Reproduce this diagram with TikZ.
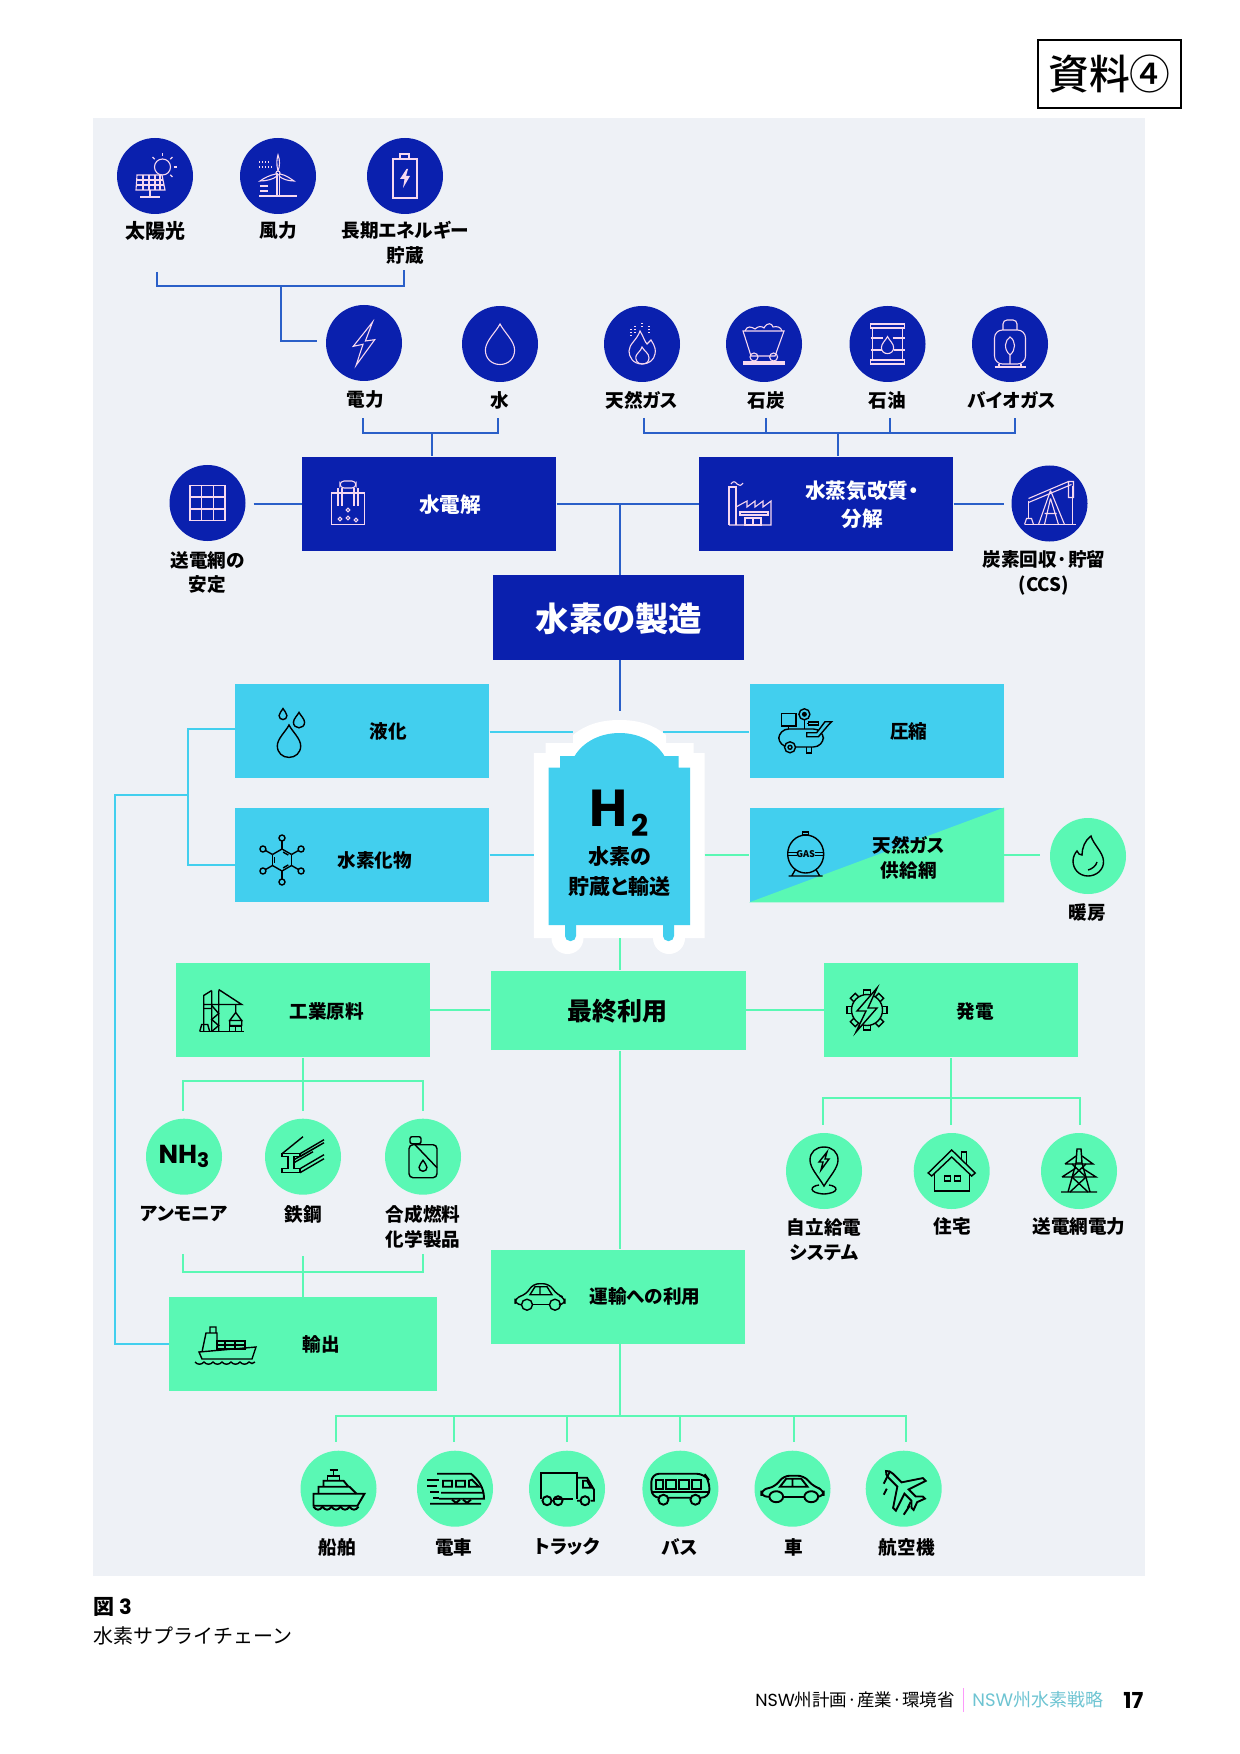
\documentclass[tikz,border=0pt]{standalone}
\usepackage{fontspec}
\setmainfont[RawFeature=+palt]{Noto Sans CJK JP}
\newfontfamily\fullfont{Noto Sans CJK JP}
\newfontfamily\medfont[UprightFont=* Medium]{Noto Sans CJK JP}
\newfontfamily\popfont{Poppins}
\usetikzlibrary{arrows.meta, positioning, shapes.geometric, fit, backgrounds}
\definecolor{hblue}{HTML}{0A20AE}
\definecolor{hcyan}{HTML}{42CFEE}
\definecolor{hgreen}{HTML}{5AF8B4}
\definecolor{hpanel}{HTML}{EEF1F6}
\definecolor{hlinb}{HTML}{2A5FC8}
\definecolor{hicow}{HTML}{F7D8F0}
\definecolor{hteal}{HTML}{6EC4D2}

% Icons, drawn in page pixels round their own centre
\tikzset{
    idrop/.pic={\draw (0,-20) .. controls (-4,-12) and (-14.6,-3) .. (-14.6,6) .. controls (-14.6,15) and (-8,20.5) .. (0,20.5) .. controls (8,20.5) and (14.6,15) .. (14.6,6) .. controls (14.6,-3) and (4,-12) .. (0,-20) -- cycle;},
    isolar/.pic={
        \draw (7.5,-9) circle (8);
        \foreach \a in {-135,-90,-45,0,45}
            \draw ([shift={(7.5,-9)}]\a:11) -- ([shift={(7.5,-9)}]\a:14);
        \filldraw[fill=hblue] (-18,-1) -- (7,-1) -- (10,14) -- (-19,14) -- cycle;
        \foreach \u in {-12,-6,0,5} \draw (\u,-1) -- (\u,14);
        \draw (-18.5,4) -- (8,4) (-19,9) -- (9,9);
        \draw (-5,14) -- (-5,21) (-15,21) -- (5,21);
    },
    iwind/.pic={
        \draw (-1,-3) -- (-1,20) (1.5,-3) -- (1.5,20) (-19,20) -- (19,20);
        \draw (0,-3) circle (2);
        \draw (0,-5) .. controls (-2,-12) and (-1,-18) .. (0,-21) .. controls (2,-16) and (2,-10) .. (0,-5);
        \draw (-2,-2) .. controls (-8,-1) and (-14,2) .. (-18,5) .. controls (-11,5) and (-4,3) .. (-1,0);
        \draw (2,-2) .. controls (8,-1) and (13,3) .. (16,5) .. controls (10,5) and (4,3) .. (1,0);
        \draw[densely dotted] (-19,-14) -- (-9,-14) (-19,-9) -- (-6,-9);
        \draw (-18,10) -- (-10,10) (-18,15) -- (-10,15);
    },
    ibatt/.pic={
        \draw (-12,-17) rectangle (12,22) (-5,-17) -- (-5,-22) -- (4,-22) -- (4,-17);
        \fill[hicow] (1.5,-7) -- (-5,3) -- (-0.5,3) -- (-2,12) -- (5,0) -- (1,0) -- (3,-7) -- cycle;
    },
    ibolt/.pic={\draw (8.6,-21) -- (-10.7,3.3) -- (-1,1.3) -- (-7.9,22.3) -- (10.7,-3.3) -- (1.4,-2) -- cycle;},
    iflame/.pic={
        \draw (0,20) .. controls (-9,20) and (-13,13) .. (-13,7) .. controls (-13,0) and (-5,-4) .. (-2,-13) .. controls (2,-6) and (3,-2) .. (5,0) .. controls (7,-2) and (8,-3) .. (9,-4) .. controls (13,2) and (14,6) .. (13,10) .. controls (12,16) and (7,20) .. (0,20) -- cycle;
        \draw (0,20) .. controls (-5,20) and (-7,15) .. (-6,12) .. controls (-5,9) and (-1,7) .. (0,3) .. controls (2,7) and (7,9) .. (7,14) .. controls (7,18) and (4,20) .. (0,20);
        \draw[densely dotted] (-11,-15) -- (-11,-6) (-7,-18) -- (-7,-9) (0,-21) -- (0,-16) (7,-18) -- (7,-9);
    },
    iheat/.pic={
        \draw (3,-20) .. controls (5,-12) and (15,-4) .. (15.5,5) .. controls (16,14) and (8,20) .. (0,20) .. controls (-9,20) and (-15,13) .. (-15,5) .. controls (-15,1) and (-13,-3) .. (-11,-5) .. controls (-10,-2) and (-8,-1) .. (-6,-1) .. controls (-6,-8) and (-3,-16) .. (3,-20) -- cycle;
        \draw (9,6) .. controls (8,10) and (4,13) .. (0,14);
    },
    icoal/.pic={
        \draw (-21,-13) -- (20,-13) -- (11,12) -- (-13,12) -- cycle;
        \draw (-19,-13) .. controls (-17,-19) and (-12,-17) .. (-9,-15) .. controls (-6,-18) and (-2,-18) .. (0,-16) .. controls (3,-22) and (8,-21) .. (9,-17) .. controls (13,-18) and (17,-17) .. (18,-13);
        \draw (-10,13) circle (4) (9.6,13) circle (4);
        \draw (-21,18) -- (21,18) (-21,20) -- (21,20);
    },
    ibarrel/.pic={
        \draw (-17,-20) rectangle (17,-16) (-17,16) rectangle (17,20);
        \draw (-15,-16) -- (-15,16) (15,-16) -- (15,16);
        \draw (-17,-6) -- (-5,-6) (5,-6) -- (17,-6) (-17,6) -- (-6,6) (6,6) -- (17,6);
        \pic[scale=.42] at (0,1) {idrop};
    },
    ibio/.pic={
        \draw[rounded corners=2pt] (-7,-14) -- (-7,-24) -- (7,-24) -- (7,-14);
        \draw[rounded corners=4pt] (-15.5,-14) rectangle (15.5,20);
        \draw (-15.5,23) -- (15.5,23) (-11,20) -- (-11,23) (11,20) -- (11,23);
        \draw (0,20) -- (0,11) (0,11) .. controls (-7,5) and (-5,-4) .. (0,-7) .. controls (6,-3) and (6,6) .. (0,11);
    },
    igrid/.pic={
        \draw (-17.5,-17.3) rectangle (17.5,17.3);
        \draw (-6,-17.3) -- (-6,17.3) (6,-17.3) -- (6,17.3) (-17.5,-6) -- (17.5,-6) (-17.5,6) -- (17.5,6);
    },
    ipump/.pic={
        \draw (-25,21) -- (26,21) (-21,15) -- (-21,-3) (23,-18) -- (23,20);
        \draw (-21,-1) -- (22,-19) (-21,-5) -- (19,-22) (19,-22) -- (24,-22) -- (24,-6) -- (19,-6) -- cycle;
        \draw (1,-13) -- (-11,21) (1,-13) -- (15,21) (1,-5) -- (-5,21) (1,-5) -- (9,21) (-5,10) -- (7,10);
        \draw (-25,21) -- (-23,15) -- (-18,15) -- (-16,21);
    },
    ielec/.pic={
        \draw (-16.4,-10) rectangle (16.4,21.7);
        \draw[rounded corners=2pt] (-8,-15) rectangle (8,-22);
        \draw (-10,-15) -- (-10,3) (-6,-15) -- (-6,3) (6,-15) -- (6,3) (10,-15) -- (10,3);
        \draw (-8,16) circle (1.8) (0,7) circle (1.8) (0,15) circle (1.8) (8,17) circle (1.8);
    },
    ifactory/.pic={
        \draw (-21,21) -- (-21,-17) -- (-14,-17) -- (-14,21);
        \draw (-21,21) -- (21,21) -- (21,-3) -- (13,3) -- (13,-3) -- (5,3) -- (5,-3) -- (-3,3) -- (-3,-3) -- (-14,3);
        \draw (-10,8) rectangle (18,11) (-5,14) rectangle (11,21) (3,14) -- (3,21);
        \draw (-19,-20) .. controls (-17,-23) and (-15,-23) .. (-13,-20) .. controls (-11,-18) and (-9,-18) .. (-7,-21);
    },
    idrops/.pic={
        \pic[scale=.8] at (0,10) {idrop};
        \pic[scale=.27] at (-6,-17) {idrop};
        \pic[scale=.38] at (10,-11) {idrop};
    },
    imol/.pic={
        \foreach \a in {30,90,...,330}{
            \draw (\a:11) -- (\a+60:11);
            \draw (\a:11) -- (\a:19);
            \draw (\a:22) circle (3);
        }
        \foreach \a in {30,150,270} \draw (\a+8:8) -- (\a+52:8);
    },
    icomp/.pic={
        \draw[rounded corners=5pt] (-27,-2) rectangle (17.7,16);
        \filldraw[fill=hcyan] (-15.7,16.3) circle (5.5);
        \draw (-15.7,16.3) circle (2);
        \draw (1,16) -- (1,22) -- (6,22) -- (6,16);
        \draw (-24,-17.7) rectangle (-9.7,-5);
        \draw (-17,-5) -- (-17,-2);
        \draw (-1.3,-16.7) circle (5.5);
        \fill[black] (-1.3,-16.7) circle (2.5);
        \draw (-1.3,-11) -- (-1.3,-2);
        \draw (3,-9) rectangle (13,-6) (1,-7.5) -- (3,-7.5);
        \filldraw[fill=hcyan] (1,1.7) -- (11,1.7) -- (19.3,-9.3) -- (26,-9.3) -- (22.7,-6) -- (12.7,5.7) -- (1,5.7) -- cycle;
    },
    igas/.pic={
        \draw (0,0) ellipse (18 and 19);
        \draw (-18,-1.5) -- (-9,-1.5) (9,-1.5) -- (18,-1.5) (-18,1.5) -- (-9,1.5) (9,1.5) -- (18,1.5);
        \draw (-3,-19) rectangle (3,-22);
        \draw (-10,15) -- (-14,22) (10,15) -- (14,22) (-17,22) -- (17,22);
        \node[font=\fontsize{4.6}{5}\selectfont\bfseries, inner sep=0pt] (tGas) at (0,0) {GAS};
    },
    icrane/.pic={
        \draw (-22,20) -- (22,20);
        \draw (-10,-21) -- (-18,-16) -- (-18,20) (-3,-21) -- (-3,20) (-10,-21) -- (-10,20) (-3,-22) -- (20,-7) -- (-18,-7);
        \draw (-10,-6) -- (-3,2) -- (-10,8) -- (-3,14) -- (-10,20);
        \draw (-18,-3) -- (-10,-3) (-22,20) -- (-20,13) -- (-14,13) -- (-12,20);
        \draw (14,-7) -- (14,1) (14,1) -- (8,9) -- (20,9) -- cycle (8,9) rectangle (20,14);
        \draw (8,15) rectangle (14,20) (14,15) rectangle (20,20);
    },
    igear/.pic={
        \draw (0,0) circle (15.5);
        \foreach \a in {0,45,...,315}
            \draw[rotate=\a] (-3.5,-15) -- (-3.5,-20) -- (3.5,-20) -- (3.5,-15);
        \filldraw[fill=hgreen] (10,-22) -- (-10,1) -- (-1,1) -- (-11,22) -- (10,-2) -- (1,-2) -- cycle;
    },
    isteel/.pic={
        \draw (-21,-3) -- (-3,-3) -- (-3,0) -- (-9,0) -- (-9,12) -- (-3,12) -- (-3,16) -- (-21,16) -- (-21,12) -- (-15,12) -- (-15,0) -- (-21,0) -- cycle;
        \draw (-21,-3) -- (0,-20) (-3,-3) -- (21,-17) (-3,0) -- (21,-14) (-9,3) -- (21,-14);
        \draw (-3,12) -- (21,-2) (-3,16) -- (21,2) (-9,6) -- (10,-5);
    },
    ican/.pic={
        \draw[rounded corners=2pt] (-14,-12) rectangle (14,21);
        \draw[rounded corners=1pt] (-13,-20) rectangle (-2,-13);
        \draw (-8,-12) -- (14,11);
        \pic[scale=.27] at (0,9) {idrop};
    },
    icargo/.pic={
        \draw (-26,7) -- (31,2) -- (27,14) -- (-23,14) -- cycle;
        \draw (-23,7) -- (-19,-12) -- (-8,-12) -- (-8,5) (-15,-12) -- (-15,-18) -- (-9,-18) -- (-9,-12);
        \draw (-8,-4) rectangle (20,4) (0,-4) -- (0,4) (10,-4) -- (10,4) (-8,0) -- (20,0);
        \draw (-30,17) .. controls (-27,20) and (-24,20) .. (-21,17) .. controls (-18,20) and (-15,20) .. (-12,17) .. controls (-9,20) and (-6,20) .. (-3,17) .. controls (0,20) and (3,20) .. (6,17) .. controls (9,20) and (12,20) .. (15,17) .. controls (18,20) and (21,20) .. (24,17) .. controls (26,19) and (28,19) .. (30,17);
    },
    icar/.pic={
        \draw[rounded corners=3pt] (-19,8) -- (-25,8) -- (-25,1) -- (-14,-2) -- (-7,-13) -- (9,-13) -- (17,-2) -- (25,1) -- (25,8) -- (20,8);
        \draw (-7,8) -- (9,8);
        \draw (-13,8) circle (5.5) (15,8) circle (5.5);
        \draw (-10,-2) -- (-5,-10) -- (0,-10) -- (0,-2) -- cycle (0,-10) -- (7,-10) -- (12,-2) -- (0,-2);
    },
    ipin/.pic={
        \draw (0,15) .. controls (-6,5) and (-14,-3) .. (-14,-11) .. controls (-14,-19) and (-8,-24) .. (0,-24) .. controls (8,-24) and (14,-19) .. (14,-11) .. controls (14,-3) and (6,5) .. (0,15) -- cycle;
        \draw (-5,14) .. controls (-14,15) and (-16,22) .. (0,23) .. controls (16,22) and (14,15) .. (5,14);
        \draw (3,-19) -- (-5,-9) -- (-1,-9) -- (-3,-1) -- (5,-12) -- (1,-12) -- cycle;
    },
    ihouse/.pic={
        \draw (-23.5,2) -- (0,-21) -- (23.5,2) -- (20,5) -- (0,-14) -- (-20,5) -- cycle;
        \draw (-17,3) -- (-17,20) -- (18,20) -- (18,3);
        \draw (10,-12) -- (10,-19) -- (15,-19) -- (15,-7);
        \draw (-7,5) rectangle (-1,10) (3,5) rectangle (9,10);
    },
    ipylon/.pic={
        \draw (-2,-22) -- (2,-22) -- (3,-8) -- (-3,-8) -- cycle;
        \draw (-3,-8) -- (-11,21) (3,-8) -- (11,21) (-18,21) -- (18,21);
        \draw (-14,-7) -- (14,-7) -- (3,-15) (-14,-7) -- (-3,-15);
        \draw (-17,6) -- (17,6) -- (3,-3) (-17,6) -- (-3,-3);
        \draw (-7,6) -- (9,21) (7,6) -- (-9,21) (-7,6) -- (7,-7) (7,6) -- (-7,-7);
    },
    icruise/.pic={
        \draw (-25,5) -- (26,5) -- (19,17) -- (-25,17) -- cycle;
        \draw (-20,5) -- (-20,-2) -- (11,-2) -- (18,5) (-15,-2) -- (-15,-8) -- (5,-8) -- (10,-2);
        \draw (-11,-8) -- (-11,-13) -- (1,-13) -- (1,-8) (-5,-13) -- (-5,-19) (-9,-19) -- (-1,-19);
        \draw (-25,18) .. controls (-22,22) and (-19,22) .. (-16,18) .. controls (-13,22) and (-10,22) .. (-7,18) .. controls (-4,22) and (-1,22) .. (2,18) .. controls (5,22) and (8,22) .. (11,18) .. controls (14,22) and (17,22) .. (20,18);
    },
    itrain/.pic={
        \draw (-18,-15) -- (16,-15) .. controls (23,-9) and (29,-2) .. (29,10) -- (-16,10) (-14,4) -- (29,4);
        \draw (-12,-8) rectangle (-3,-2) (1,-8) rectangle (10,-2) (14,-8) -- (14,-2) -- (24,-2) -- (17,-9) -- cycle;
        \draw (-28,-9) -- (-16,-9) (-28,-3) -- (-18,-3) (-25,3) -- (-16,3) (-22,9) -- (-16,9);
        \draw (-25,15) -- (26,15) (-3,11) -- (1,14) -- (5,11) (8,11) -- (12,14) -- (16,11);
    },
    itruck/.pic={
        \draw (-14,10) -- (6,10) (-26,10) -- (-26,-16) -- (10,-16) -- (10,10);
        \draw (10,-11) -- (20,-11) -- (27,1) -- (27,12) -- (24,12) (10,12) -- (13,12);
        \draw (16,-8) -- (20,-8) -- (24,-1) -- (16,-1) -- cycle;
        \draw (-20,12) circle (4.5) (-9,12) circle (4.5) (18,12) circle (4.5);
    },
    ibus/.pic={
        \draw[rounded corners=4pt] (-29,9) -- (-29,-15) -- (24,-15) -- (29,-8) -- (29,9) -- cycle;
        \draw (-24,-9) rectangle (-17,0) (-14,-9) rectangle (-4,0) (-1,-9) rectangle (9,0) (12,-9) rectangle (21,0);
        \draw (-29,3) -- (29,3);
        \filldraw[fill=hgreen] (-17,11) circle (5) (15,11) circle (5);
    },
    iplane/.pic={
        \begin{scope}[rotate=45]
        \draw (0,-25) .. controls (2,-24) and (3,-21) .. (3,-18) -- (3,-6) -- (21,6) -- (21,10) -- (3,4) -- (3,14) -- (8,19) -- (8,22) -- (0,19) -- (-8,22) -- (-8,19) -- (-3,14) -- (-3,4) -- (-21,10) -- (-21,6) -- (-3,-6) -- (-3,-18) .. controls (-3,-21) and (-2,-24) .. (0,-25) -- cycle;
        \end{scope}
        \draw (-20,-5) -- (-14,-17) (-20,6) -- (-17,0) (0,26) -- (6,17) (7,13) -- (4,19);
    }
}

\begin{document}
\begin{tikzpicture}[
    x=0.5pt, y=-0.5pt,
    panel/.style={fill=hpanel},
    dotblue/.style={circle, fill=hblue, minimum size=38pt, inner sep=0pt},
    dotcyan/.style={circle, fill=hcyan, minimum size=38pt, inner sep=0pt},
    dotgreen/.style={circle, fill=hgreen, minimum size=38pt, inner sep=0pt},
    lbl/.style={font=\fontsize{9.3}{12.4}\selectfont\bfseries, align=center, inner sep=0pt},
    boxblue/.style={fill=hblue, minimum width=127pt, minimum height=47pt, inner sep=0pt},
    boxcyan/.style={fill=hcyan, minimum width=127pt, minimum height=47pt, inner sep=0pt},
    boxgreen/.style={fill=hgreen, minimum width=127pt, minimum height=47pt, inner sep=0pt},
    wtxt/.style={lbl, text=white, font=\fontsize{10.3}{14}\selectfont\bfseries},
    wico/.style={draw=hicow, line width=0.55pt},
    kico/.style={draw=black, line width=0.7pt},
    kicob/.style={draw=black, line width=0.95pt},
    linb/.style={draw=hlinb, line width=1pt},
    linc/.style={draw=hcyan, line width=1pt},
    ling/.style={draw=hgreen, line width=1pt}
]
\useasboundingbox (0,0) rectangle (1240,1754);
\fill[panel] (93,118.5) rectangle (1145,1575.5);

% Sheet label, caption and footer
\node[draw=black, line width=0.8pt, minimum width=71.5pt, minimum height=34pt, inner sep=0pt] (sheet) at (1109.5,74) {\medfont\fontsize{20.4}{20}\selectfont 資料④};
\node[lbl, anchor=west, font=\fontsize{10.5}{12}\selectfont\bfseries] (figno) at (93,1607) {図 {\popfont 3}};
\node[lbl, anchor=west, font=\fullfont\fontsize{10}{12}\selectfont] (figcap) at (93,1636) {水素サプライチェーン};
\node[anchor=east, inner sep=0pt, font=\fontsize{8.75}{12}\selectfont] (footA) at (955,1700) {{\popfont NSW}州計画·産業·環境省};
\node[anchor=west, inner sep=0pt, text=hteal, font=\fontsize{9}{12}\selectfont] (footB) at (972,1700) {{\popfont NSW}州水素戦略};
\node[anchor=west, inner sep=0pt, font=\popfont\bfseries\fontsize{11}{12}\selectfont] (footC) at (1123,1700) {17};
\fill[hicow!40!magenta!60!white] (962.5,1688) rectangle (964,1712);

% Energy sources
\node[dotblue] (cSolar) at (155,176) {};
\node[dotblue] (cWind) at (278,176) {};
\node[dotblue] (cStore) at (405,176) {};
\node[dotblue] (cPower) at (364,343) {};
\node[dotblue] (cWater) at (500,344) {};
\node[dotblue] (cGas) at (642,344) {};
\node[dotblue] (cCoal) at (764,344) {};
\node[dotblue] (cOil) at (887.5,344) {};
\node[dotblue] (cBio) at (1010,344) {};
\node[dotblue] (cGrid) at (207.5,503) {};
\node[dotblue] (cCcs) at (1049.5,503.5) {};
\pic[wico] at (cSolar) {isolar};
\pic[wico] at (cWind) {iwind};
\pic[wico] at (cStore) {ibatt};
\pic[wico] at (cPower) {ibolt};
\pic[wico] at (cWater) {idrop};
\pic[wico] at (cGas) {iflame};
\pic[wico] at (cCoal) {icoal};
\pic[wico] at (cOil) {ibarrel};
\pic[wico] at (cBio) {ibio};
\pic[wico] at (cGrid) {igrid};
\pic[wico] at (cCcs) {ipump};
\node[lbl, font=\fontsize{10}{12}\selectfont\bfseries] (lSolar) at (155,231) {太陽光};
\node[lbl] (lWind) at (278,231) {風力};
\node[lbl] (lStore) at (405,243) {長期エネルギー\\貯蔵};
\node[lbl] (lPower) at (365,400) {電力};
\node[lbl] (lWater) at (500,400) {水};
\node[lbl] (lGas) at (642,400) {天然ガス};
\node[lbl] (lCoal) at (766,400) {石炭};
\node[lbl] (lOil) at (887,400) {石油};
\node[lbl] (lBio) at (1012,400) {バイオガス};
\node[lbl] (lGrid) at (207.5,572.5) {送電網の\\安定};
\node[lbl] (lCcs) at (1044,572.5) {炭素回収·貯留\\(CCS)};

% Production
\node[boxblue] (bElec) at (429.2,503.8) {};
\node[boxblue] (bSmr) at (826.2,503.8) {};
\node[boxblue, minimum width=125.5pt, minimum height=42.2pt] (bProd) at (618.3,617.5) {};
\pic[wico] at (348,503) {ielec};
\pic[wico] at (750,504) {ifactory};
\node[wtxt] (tElec) at (450,505) {水電解};
\node[wtxt] (tSmr) at (862,505) {水蒸気改質・\\分解};
\node[wtxt, font=\fontsize{16.7}{20}\selectfont\bfseries] (tProd) at (619,619) {水素の製造};

% Storage and transport
\fill[white] (533.8,938) -- (533.8,753) -- (545.5,753) -- (545.5,743) -- (573,743) -- (573,735) .. controls (585,725) and (600,720) .. (619.5,720) .. controls (639,720) and (654,725) .. (666,735) -- (666,743) -- (693.6,743) -- (693.6,753) -- (704.7,753) -- (704.7,938) -- cycle;
\fill[white] (567.5,938) circle (16) (669,938) circle (16);
\fill[hcyan] (548.6,925) -- (548.6,767.7) -- (560,767.7) -- (560,756) -- (574.6,756) .. controls (583,742) and (600,733) .. (619.5,733) .. controls (639,733) and (656,742) .. (664.4,756) -- (678.7,756) -- (678.7,767.7) -- (690,767.7) -- (690,925) -- cycle;
\fill[hcyan, rounded corners=2.5pt] (565,920) rectangle (576,941) (663,920) rectangle (674,941);
\node[inner sep=0pt, font=\popfont\bfseries\fontsize{26}{26}\selectfont] (tH) at (608,808) {H};
\node[inner sep=0pt, font=\popfont\bfseries\fontsize{15}{15}\selectfont] (tTwo) at (640,825) {2};
\node[lbl, font=\fontsize{10.5}{15}\selectfont\bfseries] (tTank) at (619.5,871.5) {水素の\\貯蔵と輸送};
\node[boxcyan] (bLiq) at (362.3,731) {};
\node[boxcyan] (bHyd) at (362.3,855) {};
\node[boxcyan] (bCom) at (876.6,731) {};
\node[boxcyan] (bNgs) at (876.6,855) {};
\fill[hgreen] (bNgs.north east) -- (bNgs.south east) -- (bNgs.south west) -- cycle;
\node[dotgreen] (cHeat) at (1088,856) {};
\pic[kico] at (cHeat) {iheat};
\pic[kico] at (289,731) {idrops};
\pic[kico] at (282,860) {imol};
\pic[kico] at (805.7,731) {icomp};
\pic[kico] at (805.7,854) {igas};
\node[lbl] (tLiq) at (388,731.7) {液化};
\node[lbl] (tHyd) at (374.6,860) {水素化物};
\node[lbl] (tCom) at (908.8,731.7) {圧縮};
\node[lbl] (tNgs) at (908.8,858) {天然ガス\\供給網};
\node[lbl] (lHeat) at (1087,912) {暖房};

% End use
\node[boxgreen, minimum width=127.5pt, minimum height=39.7pt] (bUse) at (618.2,1010.4) {};
\node[boxgreen] (bInd) at (303,1010.4) {};
\node[boxgreen, minimum width=127.2pt] (bPow) at (951.2,1010.4) {};
\node[boxgreen, minimum width=133.7pt] (bExp) at (303,1344) {};
\node[boxgreen, minimum width=126.8pt] (bTra) at (617.8,1296.5) {};
\pic[kico] at (221.7,1011.5) {icrane};
\pic[kico] at (867,1010) {igear};
\pic[kico] at (225,1345) {icargo};
\pic[kico] at (540,1296.7) {icar};
\node[lbl, font=\fontsize{12.5}{14}\selectfont\bfseries] (tUse) at (617.5,1011) {最終利用};
\node[lbl] (tInd) at (326.7,1011) {工業原料};
\node[lbl] (tPow) at (975,1011) {発電};
\node[lbl] (tExp) at (321,1344) {輸出};
\node[lbl] (tTra) at (645,1296) {運輸への利用};

% Industrial feedstock
\node[dotgreen] (cNh) at (184,1156.7) {\popfont\bfseries\fontsize{13}{13}\selectfont NH\raisebox{-.3ex}{\fontsize{10}{10}\selectfont 3}};
\node[dotgreen] (cSteel) at (303,1156.7) {};
\node[dotgreen] (cSyn) at (423,1156.7) {};
\pic[kico] at (cSteel) {isteel};
\pic[kico] at (cSyn) {ican};
\node[lbl] (lNh) at (184,1214) {アンモニア};
\node[lbl] (lSteel) at (303,1214) {鉄鋼};
\node[lbl] (lSyn) at (423,1226.5) {合成燃料\\化学製品};

% Power generation
\node[dotgreen] (cOff) at (824,1171) {};
\node[dotgreen] (cHome) at (951.7,1171) {};
\node[dotgreen] (cMains) at (1079,1171) {};
\pic[kico] at (cOff) {ipin};
\pic[kico] at (cHome) {ihouse};
\pic[kico] at (cMains) {ipylon};
\node[lbl] (lOff) at (824,1239.5) {自立給電\\システム};
\node[lbl] (lHome) at (952,1226.7) {住宅};
\node[lbl] (lMains) at (1079,1226.7) {送電網電力};

% Vehicles
\node[dotgreen] (cShip) at (338.5,1488.7) {};
\node[dotgreen] (cTrain) at (455,1488.7) {};
\node[dotgreen] (cTruck) at (567,1488.7) {};
\node[dotgreen] (cBus) at (680.4,1488.7) {};
\node[dotgreen] (cCar) at (792.5,1488.7) {};
\node[dotgreen] (cPlane) at (903.7,1488.7) {};
\pic[kicob] at (cShip) {icruise};
\pic[kicob] at (cTrain) {itrain};
\pic[kicob] at (cTruck) {itruck};
\pic[kicob] at (cBus) {ibus};
\pic[kicob, xscale=1.25] at (cCar) {icar};
\pic[kicob] at (cPlane) {iplane};
\node[lbl] (lShip) at (337,1547) {船舶};
\node[lbl] (lTrain) at (453.7,1547) {電車};
\node[lbl] (lTruck) at (567,1547) {トラック};
\node[lbl] (lBus) at (680,1547) {バス};
\node[lbl] (lCar) at (793.4,1547) {車};
\node[lbl] (lPlane) at (906.8,1547) {航空機};

% Free ends and junctions of the connectors
\coordinate (aSolar) at (157,272);
\coordinate (aStore) at (404,270);
\coordinate (jRenew) at (281,286);
\coordinate (aPower) at (317,341);
\coordinate (aPow2) at (363,418.5);
\coordinate (aWat2) at (497.5,418.5);
\coordinate (jElec) at (431.5,433);
\coordinate (aGas) at (643.6,418);
\coordinate (aCoal) at (766.4,418);
\coordinate (aOil) at (890,418);
\coordinate (aBio) at (1014.6,418);
\coordinate (jSmr) at (838,433);
\coordinate (aGrid) at (253.6,503.8);
\coordinate (aCcs) at (1003.6,503.8);
\coordinate (jProd) at (619.5,503.8);
\coordinate (aTank) at (619.5,710.7);
\coordinate (aTankB) at (619.5,938);
\coordinate (aLiqR) at (573,731.5);
\coordinate (aComL) at (663,731.5);
\coordinate (aHydR) at (533.8,855);
\coordinate (aNgsL) at (704.7,855);
\coordinate (aHeat) at (1040,855);
\coordinate (aLiqL) at (235.3,729);
\coordinate (aHydL) at (235.3,865);
\coordinate (jLeft) at (188,795);
\coordinate (jDown) at (115,795);
\coordinate (aNh) at (182.7,1110.7);
\coordinate (aSteel) at (303,1110.7);
\coordinate (aSyn) at (423.3,1110.7);
\coordinate (jInd) at (303,1080.7);
\coordinate (aNh2) at (182.7,1254);
\coordinate (aSteel2) at (302.5,1256);
\coordinate (aSyn2) at (423.3,1254);
\coordinate (jExp) at (302.5,1272);
\coordinate (aOff) at (823,1124.7);
\coordinate (aHome) at (951.3,1124.7);
\coordinate (aMains) at (1079.7,1124.7);
\coordinate (jPow) at (951.3,1098.3);
\coordinate (jBus) at (619.5,1415.7);
\coordinate (aShip) at (336,1441.7);
\coordinate (aTrain) at (453.7,1441.7);
\coordinate (aTruck) at (567,1441.7);
\coordinate (aBus) at (680.4,1441.7);
\coordinate (aCar) at (793.8,1441.7);
\coordinate (aPlane) at (906,1441.7);

% Feeds into production
\draw[linb] (aSolar) |- (jRenew) -| (aStore);
\draw[linb] (jRenew) |- (aPower);
\draw[linb] (aPow2) |- (jElec) -| (aWat2);
\draw[linb] (jElec) -- (jElec |- bElec.north);
\draw[linb] (aGas) |- (jSmr) -| (aBio);
\foreach \a in {aCoal,aOil}{
    \draw[linb] (\a) -- (\a |- jSmr);
}
\draw[linb] (jSmr) -- (jSmr |- bSmr.north);
\draw[linb] (aGrid) -- (bElec.west);
\draw[linb] (bSmr.east) -- (aCcs);
\draw[linb] (bElec.east) -- (bSmr.west);
\draw[linb] (jProd) -- (jProd |- bProd.north);
\draw[linb] (aTank |- bProd.south) -- (aTank);
% Round the tank
\draw[linc] (bLiq.east |- aLiqR) -- (aLiqR);
\draw[linc] (aComL) -- (bCom.west |- aComL);
\draw[linc] (bHyd.east) -- (aHydR);
\draw[ling] (aNgsL) -- (bNgs.west);
\draw[ling] (bNgs.east) -- (aHeat);
\draw[linc] (aLiqL) -| (jLeft) |- (aHydL);
\draw[linc] (jLeft) -- (jDown) |- (bExp.west);
% End use branches
\draw[ling] (aTankB) -- (aTankB |- bUse.north);
\draw[ling] (bUse.west) -- (bInd.east);
\draw[ling] (bUse.east) -- (bPow.west);
\draw[ling] (aTankB |- bUse.south) -- (aTankB |- bTra.north);
\draw[ling] (aTankB |- bTra.south) -- (jBus);
\draw[ling] (bInd.south) -- (aSteel);
\draw[ling] (aNh) |- (jInd) -| (aSyn);
\draw[ling] (aNh2) |- (jExp) -| (aSyn2);
\draw[ling] (aSteel2) -- (aSteel2 |- bExp.north);
\draw[ling] (jPow |- bPow.south) -- (aHome);
\draw[ling] (aOff) |- (jPow) -| (aMains);
\draw[ling] (aShip) |- (jBus) -| (aPlane);
\foreach \a in {aTrain,aTruck,aBus,aCar}{
    \draw[ling] (\a) -- (\a |- jBus);
}
\end{tikzpicture}
\end{document}
